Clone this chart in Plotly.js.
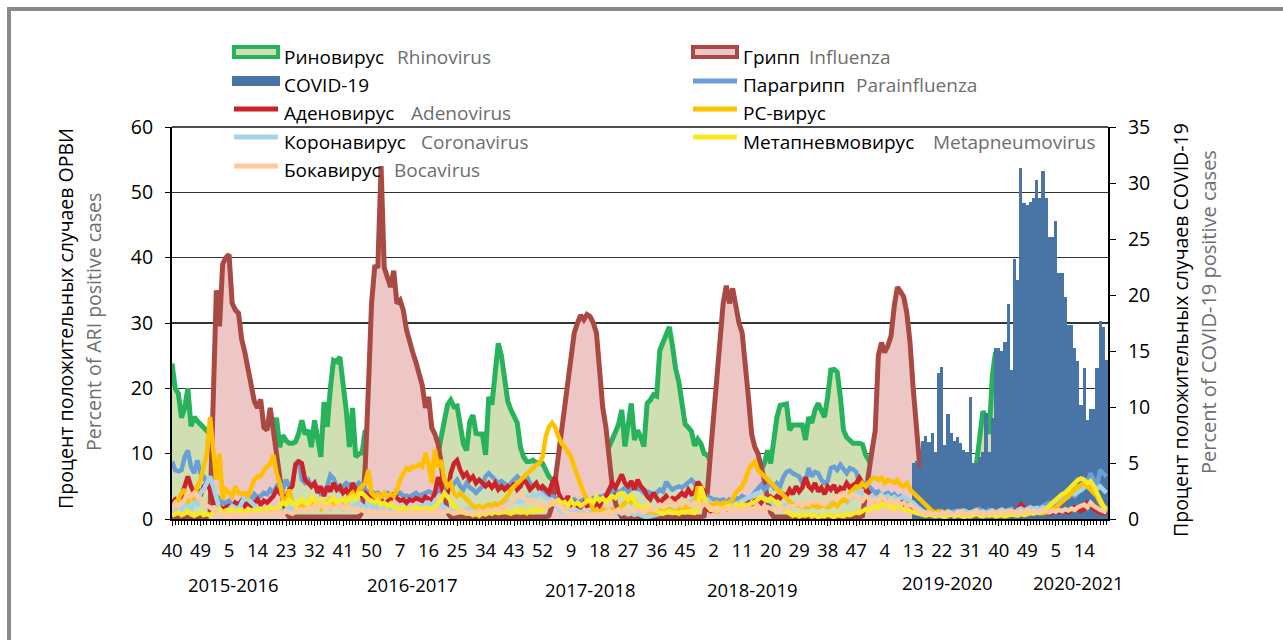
<!DOCTYPE html>
<html><head><meta charset="utf-8">
<script src="https://cdn.plot.ly/plotly-3.0.1.min.js"></script>
<style>html,body{margin:0;padding:0;background:#fff}#chart{width:1283px;height:640px}</style>
</head><body><div id="chart"></div>
<script>
// ---------------- DATA (weekly, starting at week 40 of 2015) ----------------
const tickLabels = ["40","49","5","14","23","32","41","50","7","16","25","34","43","52","9","18","27","36","45","2","11","20","29","38","47","4","13","22","31","40","49","5","14"];
const seasonLabels = ["2015-2016","2016-2017","2017-2018","2018-2019","2019-2020","2020-2021"];

const rhinovirus = [
23.8,20,19.2,15.5,17,20,14.2,15.6,15,14.5,14,13.6,13,
12,11,11,11,10,10,10,10,10,10,10,11,11,11,12,12,12,12,12.5,12.5,
15.5,11,12.8,12,11.6,11.6,11.8,13.1,15.1,13,13.6,11,15.1,12.1,9.5,17.9,14.1,20,24.3,24.1,24.8,20.7,16.7,11,17,9.5,10,10.1,13.6,
12,12,12,12,12,12,12,12,12,12,12,12,12,12,12,12,12,12,12,12,11,10.5,10,
12.6,15.6,17.5,18.2,17.2,17.3,14.1,11.5,10.5,14.9,15.9,13.1,13,13,9.8,18.7,17.5,22,26.9,25,21,18,16.7,15.5,14.7,11,9.5,8.8,8.8,9,8.6,8.6,8.5,7.5,6.5,
6,5.5,6,6,6,6,6,6,6,6,6,6,6,6,6,7,8,10,
11,12,13.3,14.5,16.7,11.1,15,17.7,12.1,13.6,12.5,11.1,17.7,18.2,19,18.8,25.8,27,28.5,29.4,26.5,23,21,17.5,14.5,14,13.4,11.2,12.2,11.5,10,9.8,
9,8,8,8,8,8,8,8,8,8,8,8,8,8,8,7.5,7.5,
8.5,10.5,8.5,12.6,15.6,17.4,17.6,17.6,13.6,14.4,14.4,14.4,14.4,12.1,15.6,14.7,16.7,17.7,16.5,15.6,18.7,22.8,22.9,22.5,18.7,13.6,12.5,12.1,11.6,11.6,11.6,11.4,9.8,
9,8,8,8,8,8,8,8,8,8,8,8,8,8,7,6,5,5,5,5,5,5,5,5,5,5,5,5,5,5,5,5,5,5,
8.5,12,16.5,15.5,13,22,25.6,24.5,15,
8,8,8,8,8,8,8,8,8,8,8,8,8,8,8,8,8,8,8,8,8,8,8,8,8,8,8,8,8,8,8,8,8];

const influenza = [
0.3,0.3,0.3,0.3,0.3,0.3,0.3,0.3,0.3,0.3,0.3,0.3,
1,17,35,29.5,39,40,40.5,33,32,31.5,27.5,25.5,23,20,18,17,18.3,14,13.6,17,13.1,9.5,6.5,3,1,
0.3,0.3,0.3,0.3,0.3,0.3,0.3,0.3,0.3,0.3,0.3,0.3,0.3,0.3,0.3,0.3,0.3,0.3,0.3,0.3,0.3,0.3,0.3,
1,8,20,33,38.6,38.7,54,38.5,37,35.5,38,33,33.5,32,29,27,25.5,24,22,20.5,17,18.7,14,13,11.5,8.5,4,1,
0.3,0.3,0.3,0.3,0.3,0.3,0.3,0.3,0.3,0.3,0.3,0.3,0.3,0.3,0.3,0.3,0.3,0.3,0.3,0.3,0.3,0.3,0.3,0.3,0.3,0.3,0.3,0.3,0.3,0.3,0.3,
0.5,2,6,10,14,18,22,25,28.5,30,31.2,30.5,31.3,31,30,28.5,22,17,14,9,5,2.5,1,
0.3,0.3,0.3,0.3,0.3,0.3,0.3,0.3,0.3,0.3,0.3,0.3,0.3,0.3,0.3,0.3,0.3,0.3,0.3,0.3,0.3,0.3,0.3,0.3,0.3,0.3,
0.5,4,10,16,21.5,27,33,35.7,33,35.3,32,30,28.5,24,18.5,13,11,10,8,6,3,1,
0.3,0.3,0.3,0.3,0.3,0.3,0.3,0.3,0.3,0.3,0.3,0.3,0.3,0.3,0.3,0.3,0.3,0.3,0.3,0.3,0.3,0.3,0.3,0.3,0.3,0.3,0.3,0.3,
0.5,4,8,10.5,13.5,25,27,25.5,26.5,28,32.5,35.5,34.8,34,31.5,27,20,13,8.5,5,2,0.5,
0.3,0.3,0.3,0.3,0.3,0.3,0.3,0.3,0.3,0.3,0.3,0.3,0.3,0.3,0.3,0.3,0.3,0.3,0.3,0.3,0.3,0.3,0.3,0.3,0.3,0.3,0.3,0.3,
0.3,0.3,0.3,0.3,0.3,0.3,0.3,0.3,0.3,0.3,0.3,0.3,0.3,0.3,0.3,0.3,0.3,0.3,0.3,0.3,0.3,0.3,0.3,0.3,0.3,0.3,0.3,0.3];

// COVID-19 (right axis), from week 13 of 2020 onward
const covidFirstWeek = 234;
const covid19 = [
5,5.2,4.5,7,7.4,6.9,7.7,6,13,13.6,
6.6,9.4,7.7,7,7.3,6.8,6.2,6,10.9,5,
5,5.5,6,9.5,6,9,15.3,15.3,15,15.8,
19.2,13.3,23.2,21.3,31.3,28.2,28,28.3,28.7,30.3,
28.7,31.1,28.7,25.2,25.2,26.6,22,22,19.8,17.3,
17.3,15.3,14.1,10.2,13.5,8.8,9.8,9.8,13.5,17.7,17.1,14.2];

const parainfluenza = [
8.8,7.5,7.3,7.5,9.5,10.5,8,7,9,7,6.5,5.5,5,4,3.5,3,2.5,2.5,2.8,2.2,2.5,2,2.8,3.2,3.5,3,3.8,3.3,3.5,4,3.8,4.5,4,5,5.5,4.5,6,5,5.5,8.5,9,6,5.5,6,5,5.5,4.5,3.8,4,5,6.7,6.2,5,4.4,5,5.5,5.2,4.5,5,5.5,5,
4.5,4,4.2,3.8,4,3.5,3.8,4,3.6,3.5,3.8,4,3.5,3.6,3.4,3.8,4,3.5,3.8,4,4.2,4,3.8,4.5,4.2,4.5,5,4.8,5.5,6,
5,4.5,5.5,4.8,4.5,4,4.5,5,6.5,7,6.5,6,5.5,5.8,5.5,5,5.5,6,6.5,6,5.8,6.5,5.5,5,5.5,4.5,4.5,4,3.5,3.5,
3.2,3,2.8,3,2.5,2.8,3,2.5,2.8,3,2.6,3,3.2,3,3.4,3.5,3.8,4,4.2,4.5,4,4.4,4.8,4.2,4.5,5,4.6,4.5,4,4.2,
4,3.8,4,4.5,4.2,5.7,5,4.5,4.8,5,4.8,5.2,5.5,6,5.5,4.5,4,3.8,3.5,3.2,
3,3,2.8,3,2.5,3,2.8,3.2,3,3.5,3.2,3,3.5,4,4.5,5.2,4.5,5,5.5,4.8,5.5,5,6.4,7.2,7.4,7,6.8,6.5,5.5,5.8,7.8,6.5,7.2,7,6,5.5,5.8,7.8,8,7.5,8.3,7.5,7,7.8,7.6,7.2,5.5,5,5.5,5,
4.5,4,4.2,3.5,3.8,4,3.5,3.8,3.2,3.5,3,2.8,2.5,2.2,2,1.5,1.2,1,1.2,1,
1,0.8,1.2,1,0.8,1,1.2,1,1.3,1,0.8,1,1.2,1,1.5,1.2,1,1.4,1.2,1,1.3,1.5,1.2,1.4,1.6,1.3,1.5,1.2,1.4,1.5,
1.4,1.6,1.5,1.8,2,2.2,2.5,2.4,2.8,3,3.2,3.5,3.3,3.8,3.5,4,5,6,5.5,7,6,5,7.5,7,6.5];

const adenovirus = [
2.5,3,2.5,3.5,5,6.5,5,4,4.5,3.5,5,5.5,4.5,2.5,2.5,2,1.5,1.8,2,1.5,2.5,2.2,2.8,2,2.5,2,2.5,3,2.2,2.8,2.5,3,3.5,4.5,4,3.5,3,4.5,5,8.3,8.8,8.5,6,5.5,5,5.5,4,5,3.5,5,4.2,5.5,4.5,5,4,4.5,3.5,5.5,4.5,4,3.5,
4,3.5,3,2.5,2.8,3,2.4,2.8,3,4,3.2,2.8,3,2.5,3,2.8,3.2,3,2.8,3.4,3,2.8,4,6.4,5,3.5,4,7,8.5,9,7.5,6.5,7,6,6.5,5.5,6,5.5,5,5.5,4.8,5.5,4.5,5,4.5,5,4.6,5.5,4.5,5,6,5.5,4.5,5,5.5,4.5,
5,4.5,4,5.5,6.4,4,3,2.5,3.5,2.2,2.5,2,1.8,2.5,2,2.2,1.8,2.5,2,3,3.5,4.5,5.5,4.8,6,6.8,5.5,5,5.8,4.5,6,5,4.5,3.5,3,4,3.2,2.5,3,3.5,2.8,3.2,3,3.5,4,3.5,4.5,3.8,4,5.7,5,4.2,
1.5,1.2,1.5,1.2,1.4,1.8,1.5,2,1.8,2.2,1.8,2.4,2,2.5,2.2,2.8,3,2.5,3.2,2.8,3.4,3,3.5,3.2,3.8,3.5,4.5,3.8,5,4.2,4.8,6.4,5,4.5,5.5,4.2,4.8,3.8,5,4.5,5.2,4,4.8,4.5,5.5,4.8,5.2,5.5,6.3,5.5,4.5,
4,3.5,3,3.5,3,2.8,3.2,2.5,3,2.5,2.8,2.2,2.5,2,1.8,1.5,1.2,1,
0.8,0.6,0.8,0.7,0.9,0.8,1,0.8,0.7,0.9,0.8,0.6,0.8,0.7,0.9,1,0.8,0.9,0.7,0.8,1,0.9,0.8,1.1,1,0.9,1.2,1,1.3,1.5,2.2,1.8,1.2,1,0.9,1,1.1,0.9,1,0.8,1,1.2,1,1.3,1.2,1,1.5,1.8,1.5,1.2,1.5,2.4,2,1.5,1.2,1,0.9,0.8];

const rsVirus = [
1.5,2.5,3,4,4.5,2.5,3.5,3,5,6,8,10,15.6,11,6,10,3,4.5,4,3.5,5,4,3.8,4,3.5,5,6,6.5,6.5,7.5,8,8.5,9.8,7,5.5,3,2.5,4.5,2.5,2,1.5,
2,1.5,2,1.8,2.5,2,1.5,2,2.5,3,2,2.5,2,3,2.5,3.5,4,3,4.5,5,
5.5,7.5,4,3.5,3.8,3.4,4,3.5,3.8,3.5,4.5,6,7,7.8,7.5,8,8,8.3,8,10.1,8.5,5.5,10.6,8,9,6,5,5.5,4,3.5,4,3.4,3,2.5,
2,1.8,2,1.5,2,2.2,2,2.4,2.2,2.5,2.9,3.5,4.5,5,5.5,6,6.5,7,7.5,8,8.3,8.6,9.5,12.6,14.1,14.7,14,12.6,11.6,11,10.1,9.5,8,6.5,5.5,4,3,2.9,1.4,1.2,1,1.5,1.2,1,1.5,1.2,
1.5,2,2.5,3,2.5,2.8,2,1.5,1.2,1,1.2,1,1,1.3,1,1.2,1.5,1.2,1,1.5,1.2,1.8,1.5,2,2.5,5,2.5,2.2,2.5,2,2.3,2.5,2.2,2.5,2.4,2.5,3,4,4.5,5,6,7.5,8.3,8.8,7.5,7,6.5,6,5.5,5,4.5,4,3.5,3,2.5,2.2,
2,2.2,1.8,2,1.8,2.2,2,1.8,2,2.2,1.8,2,2.4,2,2.5,3,2.8,4,4.5,5,4.8,5.5,5,5.5,6.2,6.3,6,6.3,5.5,6,5.8,5.5,6,5.2,5,5.5,4.5,4,3.5,3,2.5,2,1.5,1.2,1,1.2,0.9,1,0.8,
0.7,0.8,0.6,0.9,0.7,0.8,0.6,0.7,0.9,0.8,0.6,0.7,0.8,0.6,0.9,0.7,0.8,1,0.8,0.7,0.9,0.8,1,0.9,0.8,1,0.9,1.1,1,0.9,
1,1.2,1.5,1.8,2.2,2.5,3,3.5,4,4.5,5,5.2,5.5,5,4.5,4,3.5,2.5,1.8,1.2];

const coronavirus = [
1,1.5,2,1.2,2.5,2,1.5,3,2,4,4.5,5.5,6.5,
5,3,1.5,1,1.2,1.5,2,1.8,1.5,2.5,3.4,3,2.5,2,1.5,1.2,1,1.4,1.2,1,1.5,1.2,1,1.4,1.8,1.5,1.2,1.6,
1.5,2,1.8,2.2,1.6,2,2.4,1.8,2,1.5,1.8,2.2,2,1.6,2.4,2,1.8,2.2,2.5,2,1.8,2.4,2,1.5,1.8,2.2,1.6,2,1.5,1.8,1.4,1.6,2,1.5,1.8,1.4,1.6,2,1.8,2.2,
2.5,2,2.8,2.4,2,1.8,1.5,1.2,1.5,1,1.4,1.2,1.6,1.5,1.8,1.4,1.2,1.6,1.5,2,1.8,2.2,2,2.5,2.2,2.8,2.4,2.6,3,2.5,2.8,3.4,3,3.8,3.5,4,3.5,3.2,3,2.5,
2,1.5,1.2,1,1.2,0.8,1,1.2,0.8,1,0.9,1.2,1,0.8,1,1.2,1,1.3,1,0.9,1.1,0.8,1,0.7,0.9,0.6,0.8,0.5,0.4,0.3,0.4,0.5,0.7,0.8,1,1.2,1,1.5,1.3,1.6,
1.8,2,2.5,2.8,3.2,3.5,3.8,3.2,3,2.5,2.2,2,1.8,2,1.6,1.8,2,2.2,2.5,2.8,3,3.2,3.5,3.8,4,3.5,3.2,3,2.6,2.4,2,1.8,2,2.2,1.8,2,2.4,2,2.2,1.8,
2.2,2.5,2.2,2.8,2.4,2,2.5,2.8,2.4,2.2,2.6,2.9,2.5,3,3.5,4,4.4,3.8,3.5,3.2,3.6,3,3.4,3.8,3.2,3.5,3,3.4,2.9,3.2,3.5,3,2.8,2.5,2,1.5,1.2,1,1.2,0.9,
1,0.8,1.1,0.9,1.2,1,0.8,1.2,1,1.3,1.1,0.9,1.2,1.4,1,1.2,0.9,1.1,1.3,1,1.2,1.4,1.1,1.3,1.2,1,1.4,1.6,1.3,1.5,1.8,1.5,1.7,1.4,1.8,1.6,2,2.5,3,3.4,3.8,4,4.4,4,3.8,4.2,4.4,4.8,5.2,5.5,5,4.6,5,4.5,4];

const metapneumovirus = [
0.5,0.8,1,0.6,0.8,1.2,0.7,0.5,0.8,1,0.6,0.8,0.5,
1,1.2,1.5,1,1.3,1.2,1.5,1,1.4,1.2,1,1.5,1.3,1.2,1.5,1.6,1.2,1.5,1.8,1.4,1.6,
2,2.5,2.2,2.9,2.4,2,2.6,3,2.5,2.2,3.4,2.8,2.5,3,2.4,2.2,2.8,3.2,2.5,2.8,3,2.6,3.2,3.5,3,3.8,4,
3.5,3,2.8,2.5,2.9,2.2,2.5,2,2.4,1.8,1.6,1.5,1.8,1.4,1.6,1.5,1.8,1.5,1.4,1.7,1.5,1.6,1.8,2.5,3,4,3.5,2.8,2,1.5,
1.2,1,0.8,1,0.6,0.8,0.5,0.9,0.7,1,0.8,1.2,0.9,1,1.3,1,0.8,1.1,1.4,1,1.2,0.9,1.3,1.1,1.5,1.2,1.5,1.8,2,2.2,
2.5,2.9,2.4,2.6,2,2.8,2.2,2.5,2,2.4,2.8,3,2.5,3.4,2.8,3.2,2.6,3,3.5,3.2,3.8,4,3.5,3,3.6,2.8,2,1.8,1.5,2,
1.6,1.5,1.2,1,0.8,1,1.2,0.9,1,0.8,1.1,1,1.2,1,0.9,1.5,5,3.4,2,1.4,1.5,1.2,1.4,1.5,1.8,2,1.6,2.2,1.8,2.4,
2,2.2,2.5,2.6,3,3.4,3,2.8,3.2,2.8,2.4,2,1.4,1,0.8,0.5,0.7,0.4,0.6,0.5,0.8,0.4,0.6,0.3,0.5,0.4,0.7,0.5,0.3,0.6,
0.5,0.4,0.7,0.6,0.8,1,0.9,1.2,1.5,1.2,1.8,2,1.6,2.4,2,1.8,2.2,1.5,2,1.8,1.4,1.6,1.2,1,0.9,0.8,0.6,0.5,0.7,0.5,
0.4,0.6,0.5,0.3,0.5,0.7,0.4,0.6,0.5,0.3,0.5,0.4,0.6,0.8,0.5,0.4,0.6,0.5,0.7,0.4,0.5,0.6,0.4,0.5,0.7,0.6,0.5,0.8,0.6,0.7,0.9,0.8,1,0.9,1.2,
1.5,2,2.5,3,3.4,3.8,4,4.4,5,5.5,6,6.2,6,5.5,5.8,5,4,3,2,1.5];

const bocavirus = [
1.5,2.4,2,2.5,3,3.9,3.4,4,3.5,3,2.5,2,1.8,
1.5,1,0.8,0.6,0.5,0.4,0.6,0.8,0.5,0.7,0.6,0.4,0.5,0.8,0.6,0.9,0.7,1,0.8,1.1,0.9,1,0.7,1.2,1,0.8,1.2,1.5,
1.5,1.2,1.8,1.4,2,1.6,2.4,1.8,1.5,2,1.6,1.8,2.2,1.5,1.8,2,1.4,1.6,1.2,1.5,1,1.2,0.8,1.1,0.7,0.9,1.2,0.8,1,0.6,0.9,0.7,1,0.8,1.2,0.9,1.1,0.8,1,1.2,
1,0.8,1.2,0.9,0.7,1,1.3,1.1,0.8,1,1.2,1.4,1,0.8,1.1,0.9,1.3,1,1.2,1.4,1.2,1.5,1.3,1.8,1.6,2,2.4,2.9,3.5,4,3.2,2.8,3,2.4,2.6,2,2.2,1.8,2.4,2.9,
2.5,2,1.5,1.2,0.8,0.6,0.8,0.5,0.7,0.6,0.9,0.5,0.7,0.8,0.6,0.9,1,1.2,0.9,1.1,1.4,1,1.2,0.9,1.3,1.1,1.4,1.2,1,1.3,1.6,1.4,1.8,2.2,1.9,2.5,2.9,2.4,2,2.6,
2.2,2.8,2.4,2,2.5,2.2,1.8,2.4,2,1.6,1.4,1.8,1.5,1.2,1.6,1.4,1.8,1.5,1.2,1.6,1.4,1.8,1.5,1.7,1.4,1.6,1.3,1.8,1.5,1.4,1.6,1.8,1.5,1.6,2,1.8,2.2,2.5,2,2.4,
2.2,2.8,2.5,2.9,2.4,2.2,2.8,3.2,3.5,3,3.8,4,3.5,3.2,3.8,3.4,3,2.8,3.5,3.2,2.6,3,2.8,3.4,2.9,2.5,3,2.4,2.8,2.2,2.5,2,2.2,1.8,1.5,1.2,1,0.8,1,0.7,
0.8,0.6,0.9,0.7,1,0.8,0.6,0.9,1.1,0.8,0.7,1,0.9,1.2,0.8,1,0.7,0.9,1.1,0.8,1,1.2,0.9,1.1,1.3,1,0.8,1.2,1,1.4,1.1,1.3,1,1.2,1.4,1.2,1,1.3,1.1,1.4,1.2,1.5,1.3,1.6,1.4,1.8,2,2.2,1.8,2.5,2,1.6,1.4,1.2,1];

// ---------------- CHART ----------------
const weeks = rhinovirus.map((_, i) => i);
const covidWeeks = covid19.map((_, k) => covidFirstWeek + k);
const tickVals = tickLabels.map((_, k) => k * 9);

const FONT = "Open Sans, Noto Sans, sans-serif";
const C = {
  rhinoLine: "#26b35b", rhinoFill: "#d0dfb2",
  fluLine: "#a84a43", fluFill: "#edc7c5",
  covid: "#4874a6", para: "#6a9fd6", adeno: "#cd2229",
  rsv: "#ffc000", corona: "#a5d5e4", metap: "#f7ea24", boca: "#fcc9a1",
  gray: "#6e6e6e"
};

function lineTrace(y, color, name) {
  return {x: weeks, y: y, type: "scatter", mode: "lines", name: name,
          xaxis: "x", yaxis: "y3", line: {color: color, width: 4.5}, hoverinfo: "skip"};
}

const traces = [
  {x: weeks, y: rhinovirus, type: "scatter", mode: "lines", fill: "tozeroy", name: "Rhinovirus",
   fillcolor: C.rhinoFill, line: {color: C.rhinoLine, width: 5}, xaxis: "x", yaxis: "y"},
  {x: weeks, y: influenza, type: "scatter", mode: "lines", fill: "tozeroy", name: "Influenza",
   fillcolor: C.fluFill, line: {color: C.fluLine, width: 5}, xaxis: "x", yaxis: "y"},
  {x: covidWeeks, y: covid19, type: "bar", name: "COVID-19", width: 1,
   marker: {color: C.covid, line: {width: 0}}, xaxis: "x", yaxis: "y2"},
  lineTrace(parainfluenza, C.para, "Parainfluenza"),
  lineTrace(adenovirus, C.adeno, "Adenovirus"),
  lineTrace(coronavirus, C.corona, "Coronavirus"),
  lineTrace(rsVirus, C.rsv, "RSV"),
  lineTrace(metapneumovirus, C.metap, "Metapneumovirus"),
  lineTrace(bocavirus, C.boca, "Bocavirus")
];

// pixel -> paper helpers (plot area: left 172, top 127, 936 x 392)
const PL = 172, PT = 127, PW = 936, PH = 392;
const px = v => (v - PL) / PW;
const py = v => (PT + PH - v) / PH;

const shapes = [];
const annotations = [];

// frame
shapes.push({type: "rect", xref: "paper", yref: "paper", x0: px(7), x1: px(11), y0: py(640), y1: py(7), fillcolor: "#8a8a8a", line: {width: 0}, layer: "above"});
shapes.push({type: "rect", xref: "paper", yref: "paper", x0: px(7), x1: px(1283), y0: py(11), y1: py(7), fillcolor: "#8a8a8a", line: {width: 0}, layer: "above"});
// top line of plot
shapes.push({type: "line", xref: "paper", yref: "paper", x0: 0, x1: 1, y0: 1, y1: 1, line: {color: "#111", width: 1.5}, layer: "above"});

// legend
const legendItems = [
  {col: 0, row: 0, kind: "area", line: C.rhinoLine, fill: C.rhinoFill, ru: "Риновирус", en: "Rhinovirus", enX: 395},
  {col: 0, row: 1, kind: "bar", fill: C.covid, ru: "COVID-19", en: "", enX: 0},
  {col: 0, row: 2, kind: "line", line: C.adeno, ru: "Аденовирус", en: "Adenovirus", enX: 409},
  {col: 0, row: 3, kind: "line", line: C.corona, ru: "Коронавирус", en: "Coronavirus", enX: 419},
  {col: 0, row: 4, kind: "line", line: C.boca, ru: "Бокавирус", en: "Bocavirus", enX: 392},
  {col: 1, row: 0, kind: "area", line: C.fluLine, fill: C.fluFill, ru: "Грипп", en: "Influenza", enX: 807},
  {col: 1, row: 1, kind: "line", line: C.para, ru: "Парагрипп", en: "Parainfluenza", enX: 854},
  {col: 1, row: 2, kind: "line", line: C.rsv, ru: "РС-вирус", en: "", enX: 0},
  {col: 1, row: 3, kind: "line", line: C.metap, ru: "Метапневмовирус", en: "Metapneumovirus", enX: 931}
];
const symRowY = [52, 81, 109, 137, 166];
const txtRowY = [57, 85, 113, 142, 170];
const symX = [[232, 280], [691, 739]];
const txtX = [282, 741];
legendItems.forEach(it => {
  const [x0, x1] = symX[it.col];
  const yc = symRowY[it.row];
  if (it.kind === "area") {
    shapes.push({type: "rect", xref: "paper", yref: "paper", x0: px(x0 + 2), x1: px(x1 - 2), y0: py(yc + 5), y1: py(yc - 5),
                 fillcolor: it.fill, line: {color: it.line, width: 4}, layer: "above"});
  } else if (it.kind === "bar") {
    shapes.push({type: "rect", xref: "paper", yref: "paper", x0: px(x0), x1: px(x1), y0: py(yc + 5), y1: py(yc - 5),
                 fillcolor: it.fill, line: {width: 0}, layer: "above"});
  } else {
    shapes.push({type: "line", xref: "paper", yref: "paper", x0: px(x0 + 2), x1: px(x1 - 2), y0: py(yc), y1: py(yc),
                 line: {color: it.line, width: 5}, layer: "above"});
  }
  annotations.push({xref: "paper", yref: "paper", x: px(txtX[it.col]), y: py(txtRowY[it.row]), xanchor: "left", yanchor: "middle",
                    text: it.ru, showarrow: false, font: {family: FONT, size: 19, color: "#000"}});
  if (it.en) {
    annotations.push({xref: "paper", yref: "paper", x: px(it.enX), y: py(txtRowY[it.row]), xanchor: "left", yanchor: "middle",
                      text: it.en, showarrow: false, font: {family: FONT, size: 19, color: C.gray}});
  }
});

// axis titles
annotations.push({xref: "paper", yref: "paper", x: px(65), y: py(319), xanchor: "center", yanchor: "middle", textangle: -90,
                  text: "Процент положительных случаев ОРВИ", showarrow: false, font: {family: FONT, size: 19.5, color: "#000"}});
annotations.push({xref: "paper", yref: "paper", x: px(93), y: py(322), xanchor: "center", yanchor: "middle", textangle: -90,
                  text: "Percent of ARI positive cases", showarrow: false, font: {family: FONT, size: 19.5, color: C.gray}});
annotations.push({xref: "paper", yref: "paper", x: px(1180), y: py(330), xanchor: "center", yanchor: "middle", textangle: -90,
                  text: "Процент положительных случаев COVID-19", showarrow: false, font: {family: FONT, size: 19.5, color: "#000"}});
annotations.push({xref: "paper", yref: "paper", x: px(1208), y: py(312), xanchor: "center", yanchor: "middle", textangle: -90,
                  text: "Percent of COVID-19 positive cases", showarrow: false, font: {family: FONT, size: 20, color: C.gray}});

// season labels
const seasonPos = [[233, 584], [412, 584], [590, 589], [752, 589], [947, 582], [1078, 582]];
seasonLabels.forEach((s, k) => {
  annotations.push({xref: "paper", yref: "paper", x: px(seasonPos[k][0]), y: py(seasonPos[k][1]), xanchor: "center", yanchor: "middle",
                    text: s, showarrow: false, font: {family: FONT, size: 18.5, color: "#000"}});
});

const layout = {
  width: 1283, height: 640,
  margin: {l: PL, r: 1283 - PL - PW, t: PT, b: 640 - PT - PH, pad: 0},
  paper_bgcolor: "#fff", plot_bgcolor: "#fff",
  showlegend: false,
  bargap: 0,
  font: {family: FONT, color: "#000"},
  xaxis: {
    range: [0, 295.5], tickmode: "array", tickvals: tickVals, ticktext: tickLabels,
    ticks: "outside", ticklen: 5, tickcolor: "#000", tickwidth: 1,
    tickfont: {family: FONT, size: 18.5, color: "#000"}, ticklabelstandoff: 9,
    showgrid: false, zeroline: false, showline: true, linecolor: "#000", linewidth: 1.5,
    minor: {tick0: 0, dtick: 1, ticks: "outside", ticklen: 4, tickcolor: "#000", tickwidth: 1, showgrid: false},
    fixedrange: true
  },
  yaxis: {
    range: [0, 60], dtick: 10, tick0: 0, ticks: "outside", ticklen: 5, tickcolor: "#000",
    tickfont: {family: FONT, size: 19.5, color: "#000"}, ticklabelstandoff: 8,
    showgrid: true, gridcolor: "#333", gridwidth: 1.5, zeroline: false,
    showline: true, linecolor: "#000", linewidth: 2, fixedrange: true
  },
  yaxis2: {
    overlaying: "y", side: "right", range: [0, 35], dtick: 5, tick0: 0,
    ticks: "outside", ticklen: 6, tickcolor: "#000",
    tickfont: {family: FONT, size: 19.5, color: "#000"}, ticklabelstandoff: 8,
    showgrid: false, zeroline: false, showline: true, linecolor: "#000", linewidth: 2, fixedrange: true
  },
  yaxis3: {overlaying: "y", range: [0, 60], visible: false, fixedrange: true},
  shapes: shapes,
  annotations: annotations
};

Plotly.newPlot("chart", traces, layout, {displayModeBar: false, staticPlot: true});
</script>
</body></html>
